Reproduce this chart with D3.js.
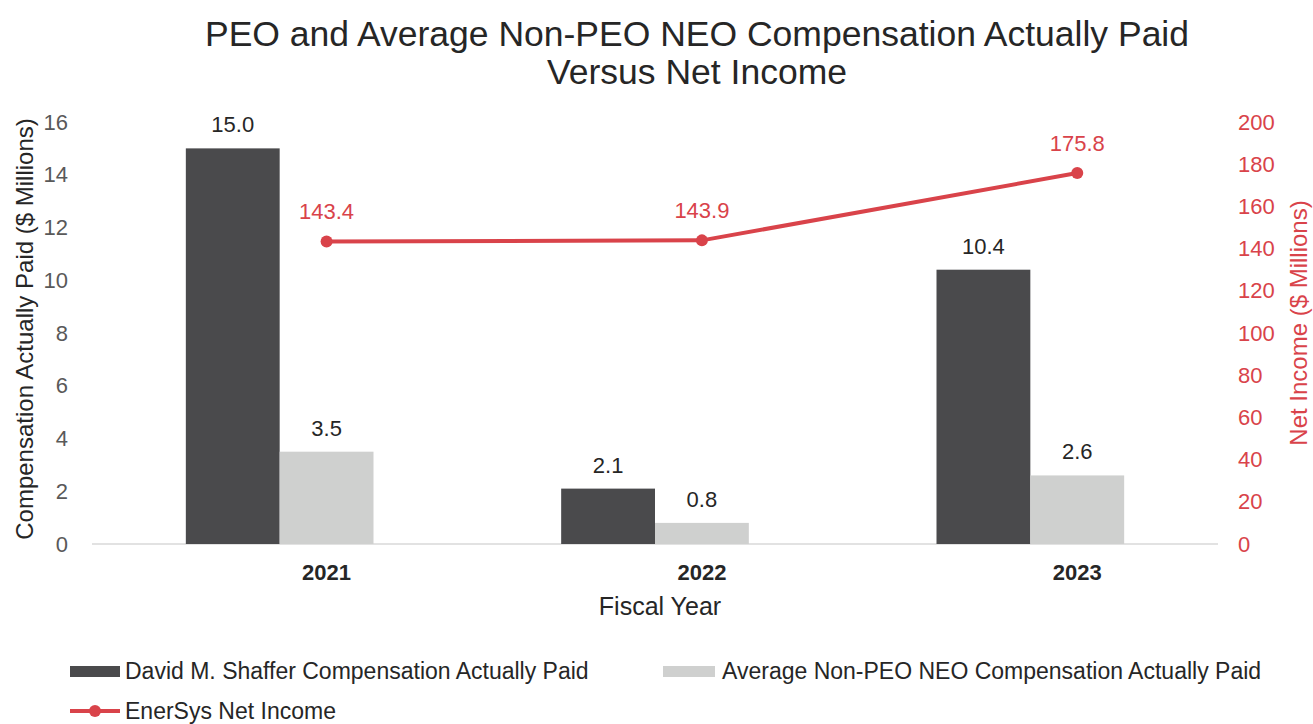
<!DOCTYPE html>
<html>
<head>
<meta charset="utf-8">
<script src="https://cdn.jsdelivr.net/npm/d3@7"></script>
<style>
  body { margin: 0; background: #fff; }
  text { font-family: "Liberation Sans", Arial, sans-serif; }
</style>
</head>
<body>
<div id="chart"></div>
<script>
// Chart data
const years = ["2021", "2022", "2023"];
const peoPaid = [15.0, 2.1, 10.4];
const neoPaid = [3.5, 0.8, 2.6];
const netIncome = [143.4, 143.9, 175.8];
const leftTicks = [0, 2, 4, 6, 8, 10, 12, 14, 16];
const rightTicks = [0, 20, 40, 60, 80, 100, 120, 140, 160, 180, 200];

const width = 1313;
const height = 724;
const margin = { top: 122, right: 95, bottom: 180, left: 92 };
const plotW = width - margin.left - margin.right;
const plotH = height - margin.top - margin.bottom;

const dark = "#4a4a4c";
const light = "#cfd0cf";
const red = "#d9434a";
const tickColor = "#595959";
const fs = 22;

const svg = d3.select("#chart")
  .append("svg")
  .attr("width", width)
  .attr("height", height);

// Title
svg.append("text")
  .attr("x", 697).attr("y", 46)
  .attr("text-anchor", "middle")
  .attr("font-size", 35.5)
  .attr("fill", "#262626")
  .text("PEO and Average Non-PEO NEO Compensation Actually Paid");
svg.append("text")
  .attr("x", 697).attr("y", 84)
  .attr("text-anchor", "middle")
  .attr("font-size", 35.5)
  .attr("fill", "#262626")
  .text("Versus Net Income");

const g = svg.append("g")
  .attr("transform", `translate(${margin.left}, ${margin.top})`);

const x = d3.scaleBand().domain(years).range([0, plotW]);
const barW = x.bandwidth() * 0.25;
const yL = d3.scaleLinear().domain([0, 16]).range([plotH, 0]);
const yR = d3.scaleLinear().domain([0, 200]).range([plotH, 0]);

// Baseline
g.append("line")
  .attr("x1", 0).attr("x2", plotW)
  .attr("y1", plotH).attr("y2", plotH)
  .attr("stroke", "#d9d9d9")
  .attr("stroke-width", 1.5);

// Left axis
const leftAxis = g.append("g")
  .call(d3.axisLeft(yL).tickValues(leftTicks).tickSize(0).tickPadding(24));
leftAxis.select(".domain").remove();
leftAxis.selectAll("text")
  .attr("font-size", fs)
  .attr("fill", tickColor)
  .attr("font-family", "Liberation Sans, Arial, sans-serif");

// Right axis
const rightAxis = g.append("g")
  .attr("transform", `translate(${plotW}, 0)`)
  .call(d3.axisRight(yR).tickValues(rightTicks).tickSize(0).tickPadding(20));
rightAxis.select(".domain").remove();
rightAxis.selectAll("text")
  .attr("font-size", fs)
  .attr("fill", red)
  .attr("font-family", "Liberation Sans, Arial, sans-serif");

// Category labels
const xAxis = g.append("g")
  .attr("transform", `translate(0, ${plotH})`)
  .call(d3.axisBottom(x).tickSize(0).tickPadding(20));
xAxis.select(".domain").remove();
xAxis.selectAll("text")
  .attr("font-size", fs)
  .attr("font-weight", "bold")
  .attr("fill", "#262626")
  .attr("font-family", "Liberation Sans, Arial, sans-serif")
  .attr("dx", barW / 2);

// Axis titles
svg.append("text")
  .attr("transform", `translate(33, 329) rotate(-90)`)
  .attr("text-anchor", "middle")
  .attr("font-size", 24)
  .attr("fill", "#262626")
  .text("Compensation Actually Paid ($ Millions)");

svg.append("text")
  .attr("transform", `translate(1307, 323) rotate(-90)`)
  .attr("text-anchor", "middle")
  .attr("font-size", 24)
  .attr("fill", red)
  .text("Net Income ($ Millions)");

svg.append("text")
  .attr("x", 660)
  .attr("y", 615)
  .attr("text-anchor", "middle")
  .attr("font-size", 25)
  .attr("fill", "#262626")
  .text("Fiscal Year");

// Bars
const center = d => x(d) + x.bandwidth() / 2;

g.selectAll(".peo")
  .data(years)
  .join("rect")
  .attr("class", "peo")
  .attr("x", d => center(d) - barW)
  .attr("y", (d, i) => yL(peoPaid[i]))
  .attr("width", barW)
  .attr("height", (d, i) => plotH - yL(peoPaid[i]))
  .attr("fill", dark);

g.selectAll(".neo")
  .data(years)
  .join("rect")
  .attr("class", "neo")
  .attr("x", d => center(d))
  .attr("y", (d, i) => yL(neoPaid[i]))
  .attr("width", barW)
  .attr("height", (d, i) => plotH - yL(neoPaid[i]))
  .attr("fill", light);

g.selectAll(".peo-label")
  .data(years)
  .join("text")
  .attr("class", "peo-label")
  .attr("x", d => center(d) - barW / 2)
  .attr("y", (d, i) => yL(peoPaid[i]) - 16)
  .attr("text-anchor", "middle")
  .attr("font-size", fs)
  .attr("fill", "#262626")
  .text((d, i) => peoPaid[i].toFixed(1));

g.selectAll(".neo-label")
  .data(years)
  .join("text")
  .attr("class", "neo-label")
  .attr("x", d => center(d) + barW / 2)
  .attr("y", (d, i) => yL(neoPaid[i]) - 16)
  .attr("text-anchor", "middle")
  .attr("font-size", fs)
  .attr("fill", "#262626")
  .text((d, i) => neoPaid[i].toFixed(1));

// Net income line
const line = d3.line()
  .x((d, i) => center(years[i]) + barW / 2)
  .y(d => yR(d));

g.append("path")
  .datum(netIncome)
  .attr("d", line)
  .attr("fill", "none")
  .attr("stroke", red)
  .attr("stroke-width", 4);

g.selectAll(".ni-dot")
  .data(netIncome)
  .join("circle")
  .attr("class", "ni-dot")
  .attr("cx", (d, i) => center(years[i]) + barW / 2)
  .attr("cy", d => yR(d))
  .attr("r", 6)
  .attr("fill", red);

g.selectAll(".ni-label")
  .data(netIncome)
  .join("text")
  .attr("class", "ni-label")
  .attr("x", (d, i) => center(years[i]) + barW / 2)
  .attr("y", d => yR(d) - 22)
  .attr("text-anchor", "middle")
  .attr("font-size", fs)
  .attr("fill", red)
  .text(d => d.toFixed(1));

// Legend
const legend = svg.append("g");

legend.append("rect")
  .attr("x", 70).attr("y", 666).attr("width", 50).attr("height", 11)
  .attr("fill", dark);
legend.append("text")
  .attr("x", 125).attr("y", 679)
  .attr("font-size", 23).attr("fill", "#262626")
  .text("David M. Shaffer Compensation Actually Paid");

legend.append("rect")
  .attr("x", 663).attr("y", 666).attr("width", 52).attr("height", 11)
  .attr("fill", light);
legend.append("text")
  .attr("x", 722).attr("y", 679)
  .attr("font-size", 23).attr("fill", "#262626")
  .text("Average Non-PEO NEO Compensation Actually Paid");

legend.append("line")
  .attr("x1", 70).attr("x2", 120).attr("y1", 711).attr("y2", 711)
  .attr("stroke", red).attr("stroke-width", 4);
legend.append("circle")
  .attr("cx", 95).attr("cy", 711).attr("r", 6)
  .attr("fill", red);
legend.append("text")
  .attr("x", 125).attr("y", 719)
  .attr("font-size", 23).attr("fill", "#262626")
  .text("EnerSys Net Income");
</script>
</body>
</html>
